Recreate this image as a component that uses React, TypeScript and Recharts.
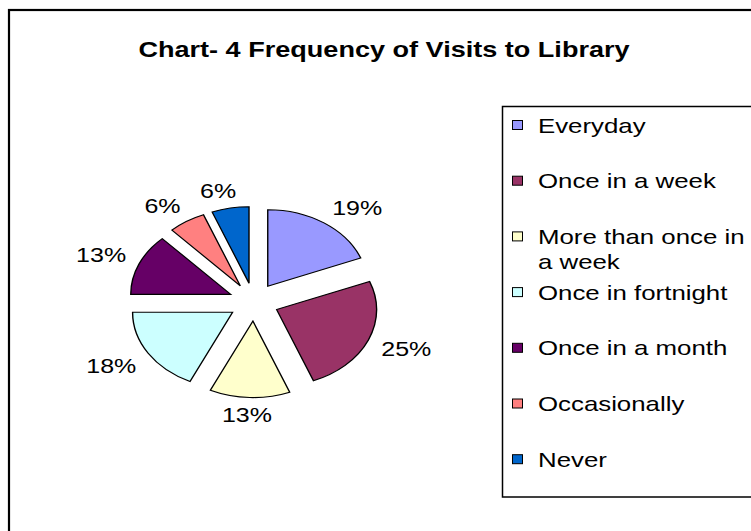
import React from 'react';
import { PieChart, Pie, Sector } from 'recharts';

const TITLE = 'Chart- 4 Frequency of Visits to Library';
const NAMES = [
  'Everyday',
  'Once in a week',
  'More than once in a week',
  'Once in fortnight',
  'Once in a month',
  'Occasionally',
  'Never',
];
const VALUES = [19, 25, 13, 18, 13, 6, 6];
const COLORS = ['#9999FF', '#993366', '#FFFFCC', '#CCFFFF', '#660066', '#FF8080', '#0066CC'];

const data = NAMES.map((name, i) => ({ name, value: VALUES[i] }));

const FONT = '"Liberation Sans", Arial, sans-serif';
const STRETCH = 1.25; // the picture is a bit wider than it is tall
const SQUASH = 0.765; // pie is drawn as a flattened ellipse
const EXPLODE = 25;
const LABEL_R = 138;
const RAD = Math.PI / 180;

const clamp = (v: number) => Math.max(-1, Math.min(1, v));

const renderSlice = (props: any) => {
  const { cx, cy, startAngle, endAngle, midAngle, outerRadius, index, value } = props;
  const cos = Math.cos(midAngle * RAD);
  const sin = Math.sin(midAngle * RAD);
  const dx = EXPLODE * cos;
  const dy = -EXPLODE * sin;

  const text = `${value}%`;
  const w = text.length * 17.3;
  const px = cx + LABEL_R * cos;
  const py = cy - LABEL_R * sin * SQUASH;
  const x = px + (w / 2) * clamp(3 * cos);
  const y = py - 7 * clamp(2 * sin) + 7;

  return (
    <g key={`slice-${index}`}>
      <g transform={`translate(0 ${cy}) scale(1 ${SQUASH}) translate(0 ${-cy})`}>
        <Sector
          cx={cx + dx}
          cy={cy + dy}
          innerRadius={0}
          outerRadius={outerRadius}
          startAngle={startAngle}
          endAngle={endAngle}
          fill={COLORS[index]}
          stroke="#000"
          strokeWidth={1.4}
        />
      </g>
      <text
        transform={`translate(${x} ${y}) scale(${STRETCH} 1)`}
        textAnchor="middle"
        fontFamily={FONT}
        fontSize={20}
        fill="#000"
      >
        {text}
      </text>
    </g>
  );
};

// rough word wrap for the legend column
const wrap = (s: string, max: number) => {
  const lines: string[] = [];
  let cur = '';
  s.split(' ').forEach(word => {
    const next = cur ? `${cur} ${word}` : word;
    if (next.length > max && cur) {
      lines.push(cur);
      cur = word;
    } else {
      cur = next;
    }
  });
  if (cur) lines.push(cur);
  return lines;
};

const LegendBox = () => (
  <g>
    <rect x={502.5} y={106.5} width={270} height={390.5} fill="#fff" stroke="#000" strokeWidth={1.5} />
    {NAMES.map((name, i) => {
      const cy = 125 + i * 55.7;
      return (
        <g key={name}>
          <rect x={512.5} y={cy - 4.5} width={10} height={9} fill={COLORS[i]} stroke="#000" strokeWidth={1} />
          {wrap(name, 17).map((line, j) => (
            <text
              key={j}
              transform={`translate(538 ${cy + 7.5 + j * 25}) scale(1.23 1)`}
              fontFamily={FONT}
              fontSize={21}
              fill="#000"
            >
              {line}
            </text>
          ))}
        </g>
      );
    })}
  </g>
);

export default function App() {
  return (
    <div style={{ position: 'absolute', left: 0, top: 0, width: 751, height: 531, background: '#fff' }}>
      <PieChart width={751} height={531} margin={{ top: 0, right: 0, bottom: 0, left: 0 }}>
        <rect x={9} y={10} width={770} height={540} fill="#fff" stroke="#000" strokeWidth={2.2} />
        <text
          transform={`translate(384 57) scale(1.23 1)`}
          textAnchor="middle"
          fontFamily={FONT}
          fontSize={22}
          fontWeight="bold"
          fill="#000"
        >
          {TITLE}
        </text>
        <Pie
          data={data}
          dataKey="value"
          nameKey="name"
          cx={253.7}
          cy={302}
          outerRadius={100}
          startAngle={90}
          endAngle={-270}
          fill="transparent"
          stroke="none"
          label={renderSlice}
          labelLine={false}
          isAnimationActive={false}
        />
        <LegendBox />
      </PieChart>
    </div>
  );
}
